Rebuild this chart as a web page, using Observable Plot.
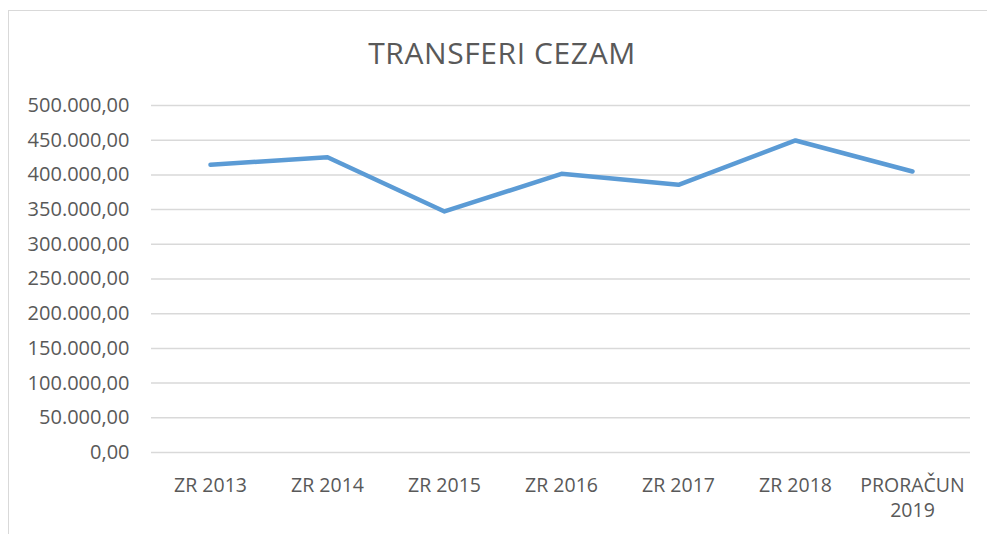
<!DOCTYPE html>
<html>
<head>
<meta charset="utf-8">
<script src="https://cdn.jsdelivr.net/npm/d3@7"></script>
<script src="https://cdn.jsdelivr.net/npm/@observablehq/plot@0.6"></script>
<style>
  html, body { margin: 0; padding: 0; background: #fff; }
  body { width: 987px; height: 534px; position: relative; overflow: hidden; font-family: "Open Sans", sans-serif; }
  #frame { position: absolute; left: 8px; top: 10px; width: 1200px; height: 800px; border-left: 1.5px solid #d9d9d9; border-top: 1.5px solid #d9d9d9; box-sizing: border-box; }
  #title { position: absolute; top: 18px; left: 0; width: 1004px; height: 70px; text-align: center; font-family: "Open Sans", sans-serif; font-size: 30px; font-weight: 400; color: #595959; line-height: 70px; letter-spacing: 0.6px; }
  #chart { position: absolute; top: 70px; left: 0; }
</style>
</head>
<body>
<div id="frame"></div>
<div id="title">TRANSFERI CEZAM</div>
<div id="chart"></div>
<script>
const categories = ["ZR 2013", "ZR 2014", "ZR 2015", "ZR 2016", "ZR 2017", "ZR 2018", "PRORAČUN 2019"];
const values = [414500, 425500, 347300, 401600, 385700, 449600, 404900];
const yTicks = [0, 50000, 100000, 150000, 200000, 250000, 300000, 350000, 400000, 450000, 500000];

const data = categories.map((c, i) => ({category: c, value: values[i]}));
const loc = d3.formatLocale({decimal: ",", thousands: ".", grouping: [3], currency: ["", ""]});
const fmt = loc.format(",.2f");

const chart = Plot.plot({
  width: 987,
  height: 464,
  marginLeft: 151,
  marginRight: 17,
  marginTop: 35,
  marginBottom: 82,
  style: {fontFamily: "Open Sans, sans-serif", fontSize: "20px", color: "#595959", background: "transparent"},
  x: {type: "point", domain: categories, padding: 0.5},
  y: {domain: [0, 500000]},
  marks: [
    Plot.gridY(yTicks, {stroke: "#d9d9d9", strokeOpacity: 1, strokeWidth: 1.5}),
    Plot.axisY(yTicks, {tickSize: 0, tickPadding: 22, tickFormat: fmt, fill: "#595959", fontSize: 20, label: null}),
    Plot.axisX(categories, {tickSize: 0, tickPadding: 22, fill: "#595959", fontSize: 19.5, lineHeight: 1.28, label: null,
      tickFormat: d => d === "PRORAČUN 2019" ? "PRORAČUN\n2019" : d}),
    Plot.line(data, {x: "category", y: "value", stroke: "#5b9bd5", strokeWidth: 4.5, strokeLinecap: "round", strokeLinejoin: "round"})
  ]
});
document.getElementById("chart").appendChild(chart);
</script>
</body>
</html>
